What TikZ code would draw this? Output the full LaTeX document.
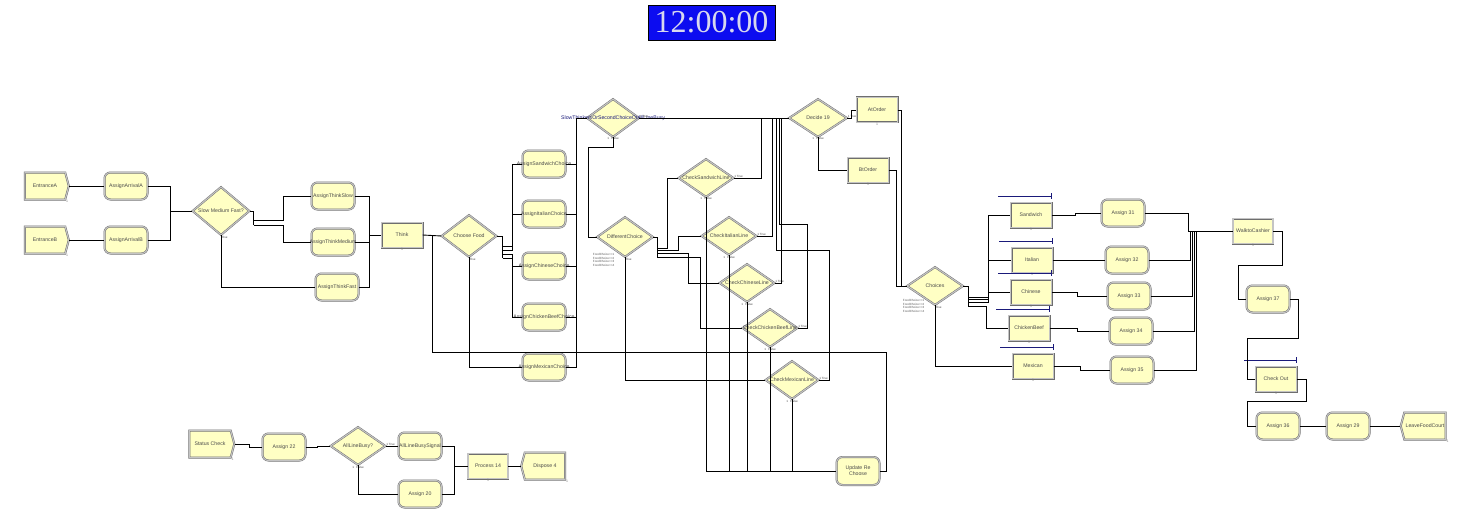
\documentclass[tikz,border=0pt]{standalone}
\usepackage{fontspec}
\setmainfont{Liberation Sans}
\newfontfamily\clockfont{Liberation Serif}
\usepackage{tikz}
\usetikzlibrary{
  arrows.meta,
  positioning,
  shapes.geometric,
  shapes.symbols,
  calc
}
\definecolor{modfill}{HTML}{FFFFC4}
\definecolor{modedge}{HTML}{6E6E6E}
\definecolor{modrim}{HTML}{C4C4C4}
\definecolor{modtext}{HTML}{4A4A4A}
\definecolor{navyline}{HTML}{1A1A7A}
\definecolor{clockblue}{HTML}{0C0CF0}
\definecolor{clockdigit}{HTML}{D8D8EE}
\tikzset{
  module/.style={
    draw=modedge, double=modrim, double distance=1.1pt, line width=0.45pt,
    fill=modfill, inner sep=0pt
  },
  procbox/.style={module, rectangle, minimum width=41, minimum height=25},
  assignbox/.style={
    module, rectangle, rounded corners=6pt, minimum width=43, minimum height=27
  },
  createbox/.style={
    module, signal, signal to=east, signal pointer angle=150,
    minimum width=44, minimum height=27
  },
  disposebox/.style={
    module, signal, signal to=west, signal pointer angle=150,
    minimum width=45, minimum height=27
  },
  decidebox/.style={module, diamond, minimum width=56, minimum height=38},
  modlbl/.style={
    font=\fontsize{5.2}{5.8}\selectfont, text=modtext, align=center, inner sep=0pt
  },
  txt/.style={label={[modlbl]center:{#1}}},
  cnt/.style={font=\fontsize{3.5}{4}\selectfont, text=gray, inner sep=0.6pt},
  cntbelow/.style={label={[cnt]below:1}},
  cntcorner/.style={label={[cnt, anchor=north west]south east:1}},
  annot/.style={font=\fontsize{3}{3.5}\selectfont, text=modtext, inner sep=0.4pt},
  truefalse/.style={
    label={[annot, anchor=south west]east:1~True},
    label={[annot, anchor=north]south:1~~~False}
  },
  elseout/.style={label={[annot, anchor=north west]south:Else}},
  condtxt/.style={
    font=\fontsize{3}{3.8}\selectfont, text=gray!70!black, align=left, inner sep=0pt
  },
  conn/.style={draw=black, line width=0.9pt},
  resbar/.style={draw=navyline, line width=0.9pt, -{Bar[width=6pt, line width=0.9pt]}},
  clockbox/.style={
    draw=black, line width=0.6pt, fill=clockblue, text=clockdigit,
    minimum width=127, minimum height=35, inner sep=0pt,
    font=\clockfont\fontsize{32}{32}\selectfont
  }
}

\begin{document}
\begin{tikzpicture}[x=1pt, y=-1pt]

  \path[use as bounding box, fill=white] (0,0) rectangle (1466,532);

  %% ── Clock ─────────────────────────────────────────────────────────────────
  \node[clockbox] (clock) at (711.5,22.5) {12:00:00};

  %% ── Arrivals ──────────────────────────────────────────────────────────────
  \node[createbox, txt=EntranceA, cntcorner] (entA) at (45,186) {};
  \node[createbox, txt=EntranceB, cntcorner] (entB) at (45,240) {};
  \node[assignbox, txt=AssignArrivalA] (asgA) at (126,186) {};
  \node[assignbox, txt=AssignArrivalB] (asgB) at (126,240) {};

  %% ── Thinking ──────────────────────────────────────────────────────────────
  \node[decidebox, minimum width=57, minimum height=48, txt={Slow Medium Fast?}, elseout] (smf) at (221,211) {};
  \node[assignbox, txt=AssignThinkSlow]   (tslow) at (333,196) {};
  \node[assignbox, txt=AssignThinkMedium] (tmed)  at (333,242) {};
  \node[assignbox, txt=AssignThinkFast]   (tfast) at (337,287) {};
  \node[procbox, txt=Think, cntbelow] (think) at (402,235) {};

  %% ── Food choice ───────────────────────────────────────────────────────────
  \node[decidebox, minimum width=55, minimum height=42, txt={Choose Food}, elseout] (choose) at (469,236) {};
  \node[assignbox, txt=AssignSandwichChoice]    (chSand)  at (544,164) {};
  \node[assignbox, txt=AssignItalianChoice]     (chItal)  at (544,214) {};
  \node[assignbox, txt=AssignChineseChoice]     (chChin)  at (544,266) {};
  \node[assignbox, txt=AssignChickenBeefChoice] (chChick) at (544,317) {};
  \node[assignbox, txt=AssignMexicanChoice]     (chMex)   at (544,367) {};

  %% ── Line checks ───────────────────────────────────────────────────────────
  \node[decidebox, minimum width=52,
        label={[modlbl, text=navyline]center:SlowThinkersOrSecondChoiceOrAllLineBusy},
        truefalse] (slow) at (613,118) {};
  \node[decidebox, minimum height=40, txt=DifferentChoice, elseout] (diff) at (625,237) {};
  \node[condtxt, anchor=north west] (diffcond) at ($(diff.west)+(-4,16)$)
    {FoodChoice==1\\FoodChoice==2\\FoodChoice==3\\FoodChoice==4};
  \node[decidebox, minimum width=55, txt=CheckSandwichLine, truefalse]    (cSand)  at (706,178) {};
  \node[decidebox, minimum width=55, txt=CheckItalianLine, truefalse]     (cItal)  at (729,236) {};
  \node[decidebox, minimum width=55, txt=CheckChineseLine, truefalse]     (cChin)  at (747,283) {};
  \node[decidebox, minimum width=55, txt=CheckChickenBeefLine, truefalse] (cChick) at (770,328) {};
  \node[decidebox, minimum width=53, txt=CheckMexicanLine, truefalse]     (cMex)   at (792,380) {};
  \node[assignbox, minimum height=28, txt={Update Re\\Choose}] (upd) at (858,471) {};

  %% ── Ordering ──────────────────────────────────────────────────────────────
  \node[decidebox, minimum width=58, txt={Decide 19}, truefalse] (dec19) at (818,118) {};
  \node[procbox, txt=AtOrder, cntbelow] (atord) at (877,110) {};
  \node[procbox, txt=BtOrder, cntbelow] (btord) at (868,170) {};
  \node[decidebox, txt=Choices, elseout] (choices) at (935,286) {};
  \node[condtxt, anchor=north west] (choicecond) at ($(choices.west)+(-4,13)$)
    {FoodChoice==1\\FoodChoice==2\\FoodChoice==3\\FoodChoice==4};

  \node[procbox, txt=Sandwich, cntbelow]    (sand)  at (1031,215) {};
  \node[procbox, txt=Italian, cntbelow]     (ital)  at (1032,260) {};
  \node[procbox, txt=Chinese, cntbelow]     (chin)  at (1031,292) {};
  \node[procbox, txt=ChickenBeef, cntbelow] (chick) at (1029,328) {};
  \node[procbox, txt=Mexican, cntbelow]     (mex)   at (1033,366) {};
  \foreach \q in {sand,ital,chin,chick,mex}
    \draw[resbar] ([xshift=-12pt, yshift=6pt]\q.north west) -- ([yshift=6pt]\q.north east);

  \node[assignbox, txt={Assign 31}] (a31) at (1123,213) {};
  \node[assignbox, txt={Assign 32}] (a32) at (1127,260) {};
  \node[assignbox, txt={Assign 33}] (a33) at (1129,296) {};
  \node[assignbox, txt={Assign 34}] (a34) at (1131,331) {};
  \node[assignbox, txt={Assign 35}] (a35) at (1132,370) {};

  %% ── Cashier ───────────────────────────────────────────────────────────────
  \node[procbox, minimum width=40, txt=WalktoCashier, cntbelow] (walk) at (1253,231) {};
  \node[assignbox, txt={Assign 37}] (a37) at (1268,299) {};
  \node[procbox, txt={Check Out}, cntbelow] (checkout) at (1276,379) {};
  \draw[resbar] ([xshift=-11pt, yshift=6pt]checkout.north west) -- ([yshift=6pt]checkout.north east);
  \node[assignbox, txt={Assign 36}] (a36) at (1278,426) {};
  \node[assignbox, txt={Assign 29}] (a29) at (1348,426) {};
  \node[disposebox, txt=LeaveFoodCourt, cntcorner] (leave) at (1425,426) {};

  %% ── Status check ──────────────────────────────────────────────────────────
  \node[createbox, minimum width=45, txt={Status Check}, cntcorner] (status) at (210,444) {};
  \node[assignbox, txt={Assign 22}] (a22) at (284,447) {};
  \node[decidebox, minimum width=55, txt=AllLineBusy?, truefalse] (alb) at (358,446) {};
  \node[assignbox, txt=AllLineBusySignal] (albs) at (420,446) {};
  \node[assignbox, txt={Assign 20}] (a20) at (420,494) {};
  \node[procbox, minimum width=40, txt={Process 14}, cntbelow] (p14) at (488,466) {};
  \node[disposebox, minimum width=44, txt={Dispose 4}, cntcorner] (disp) at (545,466) {};

  %% ── Connectors ────────────────────────────────────────────────────────────
  % Arrivals and thinking
  \draw[conn] (entA.east) -- (asgA.west);
  \draw[conn] (entB.east) -- (asgB.west);
  \draw[conn] (asgA.east) -- ++(23,0) |- (smf.west);
  \draw[conn] (asgB.east) -- ++(23,0) |- (smf.west);
  \draw[conn] (smf.east) -- ++(4,0) -- ++(0,14);
  \draw[conn] ($(smf.east)+(4,9)$) -- ++(30,0) |- (tslow.west);
  \draw[conn] ($(smf.east)+(4,14)$) -- ++(30,0) |- (tmed.west);
  \draw[conn] (smf.south) |- (tfast.west);
  \draw[conn] (tslow.east) -- ++(15,0) |- (think.west);
  \draw[conn] (tmed.east) -- ++(15,0) |- (think.west);
  \draw[conn] (tfast.east) -- ++(11,0) |- (think.west);
  \draw[conn] (think.east) -- (choose.west);

  % Food choice
  \draw[conn] (choose.east) -- ++(6,0) -- ++(0,22);
  \draw[conn] ($(choose.east)+(6,10)$) -- ++(10,0) |- (chSand.west);
  \draw[conn] ($(choose.east)+(6,14)$) -- ++(10,0) |- (chItal.west);
  \draw[conn] ($(choose.east)+(6,18)$) -- ++(10,0) |- (chChin.west);
  \draw[conn] ($(choose.east)+(6,22)$) -- ++(10,0) |- (chChick.west);
  \draw[conn] (choose.south) |- (chMex.west);
  \foreach \c in {chSand,chItal,chChin,chChick,chMex}
    \draw[conn] (\c.east) -- ++(10.5,0) |- (slow.west);

  % Second choice and line checks
  \draw[conn] (slow.east) -- (dec19.west);
  \draw[conn] (slow.south) -- ++(0,10) -- ++(-25,0) |- (diff.west);
  \draw[conn] (diff.east) -- ++(4,0) -- ++(0,21);
  \draw[conn] ($(diff.east)+(4,11)$) -- ++(10,0) |- (cSand.west);
  \draw[conn] ($(diff.east)+(4,13)$) -- ++(21,0) |- (cItal.west);
  \draw[conn] ($(diff.east)+(4,16)$) -- ++(31,0) |- (cChin.west);
  \draw[conn] ($(diff.east)+(4,20)$) -- ++(43,0) |- (cChick.west);
  \draw[conn] (diff.south) |- (cMex.west);
  \draw[conn] (cSand.east) -- ++(28,0) |- (dec19.west);
  \draw[conn] (cItal.east) -- ++(16,0) |- (dec19.west);
  \draw[conn] (cChin.east) -- ++(7,0) |- (dec19.west);
  \draw[conn] (cChick.east) -- ++(10,0) -- ++(0,-104) -- ++(-28,0) |- (dec19.west);
  \draw[conn] (cMex.east) -- ++(11,0) -- ++(0,-130) -- ++(-53,0) |- (dec19.west);
  \foreach \c in {cSand,cItal,cChin,cChick,cMex}
    \draw[conn] (\c.south) |- (upd.west);
  \draw[conn] (upd.east) -- ++(7,0) -- ++(0,-119) -| ($(think.east)!0.5!(choose.west)$);

  % Ordering
  \draw[conn] (dec19.east) -- ++(4,0) |- (atord.west);
  \draw[conn] (dec19.south) |- (btord.west);
  \draw[conn] (atord.east) -- ++(4,0) |- (choices.west);
  \draw[conn] (btord.east) -- ++(8,0) |- (choices.west);
  \draw[conn] (choices.east) -- ++(5,0) -- ++(0,21);
  \draw[conn] ($(choices.east)+(5,11)$) -- ++(20,0) |- (sand.west);
  \draw[conn] ($(choices.east)+(5,13)$) -- ++(20,0) |- (ital.west);
  \draw[conn] ($(choices.east)+(5,16)$) -- ++(20,0) |- (chin.west);
  \draw[conn] ($(choices.east)+(5,20)$) -- ++(18,0) |- (chick.west);
  \draw[conn] (choices.south) |- (mex.west);
  \draw[conn] (sand.east) -- ++(24,0) |- (a31.west);
  \draw[conn] (ital.east) -- (a32.west);
  \draw[conn] (chin.east) -- ++(26,0) |- (a33.west);
  \draw[conn] (chick.east) -- ++(28,0) |- (a34.west);
  \draw[conn] (mex.east) -- ++(27,0) |- (a35.west);
  \draw[conn] (a31.east) -- ++(43.5,0) |- (walk.west);
  \draw[conn] (a32.east) -- ++(41.5,0) |- (walk.west);
  \draw[conn] (a33.east) -- ++(41.5,0) |- (walk.west);
  \draw[conn] (a34.east) -- ++(41.5,0) |- (walk.west);
  \draw[conn] (a35.east) -- ++(42.5,0) |- (walk.west);

  % Cashier
  \draw[conn] (walk.east) -- ++(9,0) -- ++(0,34) -- ++(-44,0) |- (a37.west);
  \draw[conn] (a37.east) -- ++(8.5,0) -- ++(0,39) -- ++(-51,0) |- (checkout.west);
  \draw[conn] (checkout.east) -- ++(10,0) -- ++(0,22) -- ++(-59,0) |- (a36.west);
  \draw[conn] (a36.east) -- (a29.west);
  \draw[conn] (a29.east) -- (leave.west);

  % Status check
  \draw[conn] (status.east) -- ++(15,0) |- (a22.west);
  \draw[conn] (a22.east) -- ++(12,0) |- (alb.west);
  \draw[conn] (alb.east) -- (albs.west);
  \draw[conn] (alb.south) |- (a20.west);
  \draw[conn] (albs.east) -- ++(13,0) |- (p14.west);
  \draw[conn] (a20.east) -- ++(13,0) |- (p14.west);
  \draw[conn] (p14.east) -- (disp.west);

\end{tikzpicture}
\end{document}
